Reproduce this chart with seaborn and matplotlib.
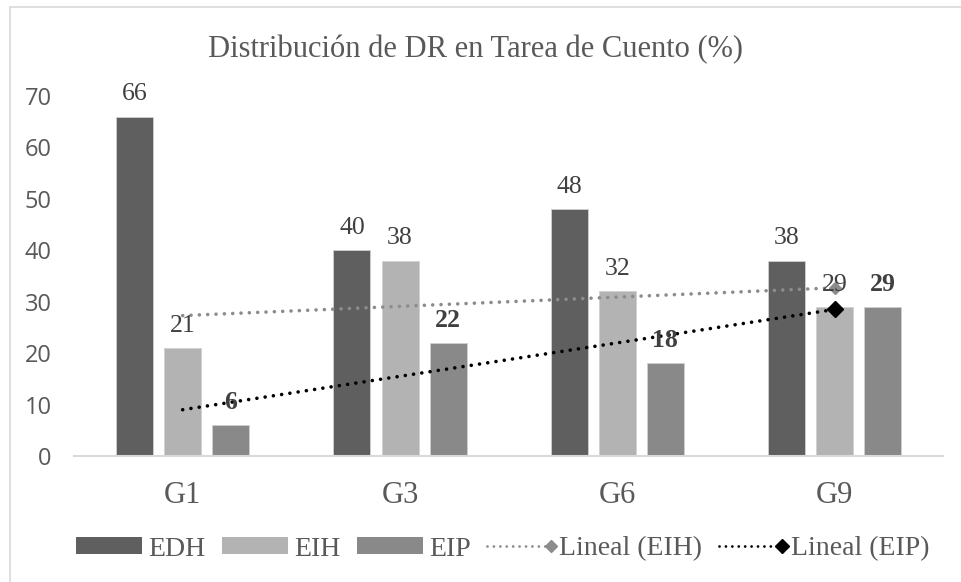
import numpy as np
import pandas as pd
import seaborn as sns
import matplotlib
matplotlib.use("Agg")
import matplotlib.pyplot as plt
from matplotlib.lines import Line2D
from matplotlib.patches import Patch
from matplotlib.legend_handler import HandlerBase

# ---- data ----
grupos = ["G1", "G3", "G6", "G9"]
edh = [66, 40, 48, 38]
eih = [21, 38, 32, 29]
eip = [6, 22, 18, 29]
series = ["EDH", "EIH", "EIP"]
yticks = [0, 10, 20, 30, 40, 50, 60, 70]
title = "Distribución de DR en Tarea de Cuento (%)"

df = pd.DataFrame({
    "grupo": grupos * 3,
    "serie": ["EDH"] * 4 + ["EIH"] * 4 + ["EIP"] * 4,
    "valor": edh + eih + eip,
})

colors = {"EDH": "#5f5f5f", "EIH": "#b3b3b3", "EIP": "#898989"}
txt = "#595959"
lbl = "#404040"
serif = ["Liberation Serif", "DejaVu Serif"]

sns.set_theme(style="white")
plt.rcParams["font.family"] = serif

fig = plt.figure(figsize=(9.61, 5.82), dpi=100)
ax = fig.add_axes([74 / 961, 1 - 456 / 582, 869.4 / 961, 360 / 582])

sns.barplot(data=df, x="grupo", y="valor", hue="serie", order=grupos,
            hue_order=series, palette=colors, width=0.663, gap=0.23,
            edgecolor="#d0d0d0", linewidth=0.6, legend=False, ax=ax,
            saturation=1)

# data labels
for cont, s in zip(ax.containers, series):
    ax.bar_label(cont, labels=[f"{int(v)}" for v in cont.datavalues],
                 padding=8, fontsize=18.5, color=lbl,
                 fontweight="bold" if s == "EIP" else "normal",
                 family=serif, zorder=6)

# linear trend lines (fit on category positions)
xs = np.arange(len(grupos))
trend_styles = {"EIH": dict(color="#8c8c8c", ms=6.5), "EIP": dict(color="#000000", ms=8)}
for s, vals in (("EIH", eih), ("EIP", eip)):
    m, b = np.polyfit(xs, vals, 1)
    st = trend_styles[s]
    ax.plot([xs[0], xs[-1]], [m * xs[0] + b, m * xs[-1] + b], color=st["color"],
            lw=2.6, linestyle=(0, (0.01, 2.3)), dash_capstyle="round", zorder=4)
    ax.plot([xs[-1]], [m * xs[-1] + b], marker="D", color=st["color"],
            ms=st["ms"], linestyle="none", zorder=5)

ax.set_xlim(-0.5, 3.5)
ax.set_ylim(0, 70)
ax.set_yticks(yticks)
ax.set_xlabel("")
ax.set_ylabel("")
for sp in ["top", "right", "left"]:
    ax.spines[sp].set_visible(False)
ax.spines["bottom"].set_color("#d9d9d9")
ax.spines["bottom"].set_linewidth(1.5)
ax.tick_params(axis="both", length=0)
ax.tick_params(axis="x", pad=18, labelsize=22, labelcolor=txt)
ax.tick_params(axis="y", pad=16, labelsize=17, labelcolor=txt)
for t in ax.get_yticklabels():
    t.set_fontfamily(["Open Sans", "DejaVu Sans"])
for t in ax.get_xticklabels():
    t.set_fontfamily(serif)
ax.grid(False)

# title
fig.text(476 / 961, 1 - 57 / 582, title, ha="center", va="baseline",
         fontsize=22, color=txt, family=serif)

# legend with diamond at line end
class EndMarkerHandler(HandlerBase):
    def create_artists(self, legend, orig, xdescent, ydescent, width, height,
                       fontsize, trans):
        y = height / 2 - ydescent
        c = orig.get_color()
        line = Line2D([-xdescent, width - xdescent - 6], [y, y], color=c,
                      lw=2.0, linestyle=(0, (0.01, 2.3)), dash_capstyle="round")
        mk = Line2D([width - xdescent - 2], [y], marker="D", color=c,
                    ms=orig.get_markersize(), linestyle="none")
        line.set_transform(trans)
        mk.set_transform(trans)
        return [line, mk]

handles = [Patch(facecolor=colors[s], edgecolor="none") for s in series]
h_eih = Line2D([], [], color="#8c8c8c", marker="D", ms=6.5)
h_eip = Line2D([], [], color="#000000", marker="D", ms=7.5)
handles += [h_eih, h_eip]
labels = series + ["Lineal (EIH)", "Lineal (EIP)"]
fig.legend(handles, labels, loc="center", bbox_to_anchor=(503 / 961, 1 - 549 / 582),
           ncol=5, frameon=False, labelcolor=txt,
           handlelength=2.37, handleheight=0.55, handletextpad=0.22,
           columnspacing=0.6, borderaxespad=0, borderpad=0,
           handler_map={Line2D: EndMarkerHandler()},
           prop={"family": serif, "size": 20})

# chart border
fig.add_artist(Line2D([10 / 961, 10 / 961], [0, 1 - 7 / 582], transform=fig.transFigure,
                      color="#d9d9d9", lw=1.2))
fig.add_artist(Line2D([10 / 961, 1], [1 - 7 / 582, 1 - 7 / 582], transform=fig.transFigure,
                      color="#d9d9d9", lw=1.2))

fig.savefig("out.png", dpi=100, facecolor="white")
